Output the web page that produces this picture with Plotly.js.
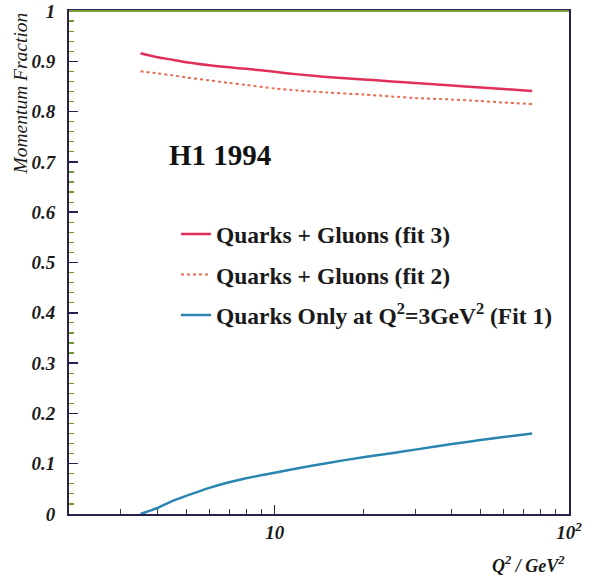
<!DOCTYPE html>
<html>
<head>
<meta charset="utf-8">
<script src="https://cdn.plot.ly/plotly-3.0.1.min.js"></script>
<style>
  html, body { margin: 0; padding: 0; background: #ffffff; }
  #chart { width: 603px; height: 578px; }
</style>
</head>
<body>
<div id="chart"></div>
<script>
// Q^2 grid (GeV^2) on which the momentum fractions are tabulated
const q2 = [3.5, 4, 4.5, 5, 6, 7, 8, 10, 12, 15, 20, 25, 30, 40, 50, 60, 75];

// Quarks + Gluons, fit 3 (solid)
const fit3 = [0.916, 0.908, 0.903, 0.898, 0.892, 0.888, 0.885, 0.879, 0.874, 0.869, 0.864, 0.860, 0.857, 0.852, 0.848, 0.845, 0.841];

// Quarks + Gluons, fit 2 (dotted)
const fit2 = [0.880, 0.876, 0.872, 0.868, 0.862, 0.857, 0.853, 0.846, 0.842, 0.838, 0.834, 0.830, 0.827, 0.824, 0.821, 0.818, 0.815];

// Quarks only at Q^2 = 3 GeV^2, fit 1
const fit1 = [0.000, 0.012, 0.026, 0.036, 0.052, 0.063, 0.071, 0.082, 0.091, 0.101, 0.113, 0.121, 0.128, 0.139, 0.147, 0.153, 0.160];

const legendNames = [
  'Quarks + Gluons (fit 3)',
  'Quarks + Gluons (fit 2)',
  'Quarks Only at Q<sup>2</sup>=3GeV<sup>2</sup> (Fit 1)'
];

const xMajorTicks = [10, 100];
const xMajorText = ['10', '10<sup>2</sup>'];
const xMinorTicks = [3, 4, 5, 6, 7, 8, 9, 20, 30, 40, 50, 60, 70, 80, 90];

const serif = 'Liberation Serif, Times New Roman, serif';

const traces = [
  {
    x: q2, y: fit3, name: legendNames[0], legendgroup: 'a',
    mode: 'lines', line: {color: '#e0305a', width: 2.5, shape: 'spline', smoothing: 0.8}
  },
  {
    x: q2, y: fit2, name: legendNames[1], legendgroup: 'b',
    mode: 'lines', line: {color: '#e86a50', width: 2, dash: '3px,3px', shape: 'spline', smoothing: 0.8}
  },
  {
    x: q2, y: fit1, name: legendNames[2], legendgroup: 'c',
    mode: 'lines', line: {color: '#2a86b0', width: 2.5, shape: 'spline', smoothing: 0.8}
  }
];

const axisColor = '#2a2050';

const layout = {
  width: 603, height: 578,
  margin: {l: 69, r: 34, t: 11, b: 64},
  paper_bgcolor: '#ffffff',
  plot_bgcolor: '#ffffff',
  showlegend: true,
  legend: {
    x: 0.214, xanchor: 'left',
    y: 0.6, yanchor: 'top',
    bgcolor: 'rgba(0,0,0,0)',
    font: {family: serif, size: 23.5, color: '#1a1a1a', weight: 'bold'},
    tracegroupgap: 7
  },
  xaxis: {
    type: 'log',
    range: [Math.log10(2), 2],
    tickmode: 'array', tickvals: xMajorTicks, ticktext: xMajorText,
    ticks: 'inside', ticklen: 9, tickwidth: 1.5, tickcolor: axisColor,
    minor: {tickmode: 'array', tickvals: xMinorTicks, ticks: 'inside', ticklen: 5, tickwidth: 1.2, tickcolor: '#3a3a3a'},
    showgrid: false, zeroline: false,
    showline: true, linecolor: axisColor, linewidth: 2, mirror: true,
    tickfont: {family: serif, size: 19, color: '#1a1a1a', style: 'italic', weight: 'bold'}
  },
  yaxis: {
    range: [0, 1],
    tick0: 0, dtick: 0.1,
    ticks: 'inside', ticklen: 9, tickwidth: 1.5, tickcolor: axisColor,
    minor: {dtick: 0.02, ticks: 'inside', ticklen: 5, tickwidth: 1.2, tickcolor: '#6a9a30'},
    showgrid: false, zeroline: false,
    showline: true, linecolor: axisColor, linewidth: 2, mirror: true,
    ticklabelstandoff: 8,
    tickfont: {family: serif, size: 19, color: '#1a1a1a', style: 'italic', weight: 'bold'}
  },
  shapes: [
    {type: 'line', xref: 'paper', yref: 'paper', x0: 0, x1: 1, y0: 1, y1: 1,
     line: {color: '#7aa040', width: 2}}
  ],
  annotations: [
    {
      text: 'H1 1994', xref: 'paper', yref: 'paper',
      x: 0.196, y: 0.714, xanchor: 'left', yanchor: 'middle', showarrow: false,
      font: {family: serif, size: 29, color: '#111111', weight: 'bold'}
    },
    {
      text: 'Momentum Fraction', xref: 'paper', yref: 'paper',
      x: -0.098, y: 0.836, xanchor: 'center', yanchor: 'middle', showarrow: false,
      textangle: -90,
      font: {family: serif, size: 19.5, color: '#1a1a1a', style: 'italic'}
    },
    {
      text: 'Q<sup>2</sup> / GeV<sup>2</sup>', xref: 'paper', yref: 'paper',
      x: 0.995, y: -0.1, xanchor: 'right', yanchor: 'middle', showarrow: false,
      font: {family: serif, size: 18, color: '#1a1a1a', style: 'italic', weight: 'bold'}
    }
  ]
};

Plotly.newPlot('chart', traces, layout, {displayModeBar: false, staticPlot: true});
</script>
</body>
</html>
